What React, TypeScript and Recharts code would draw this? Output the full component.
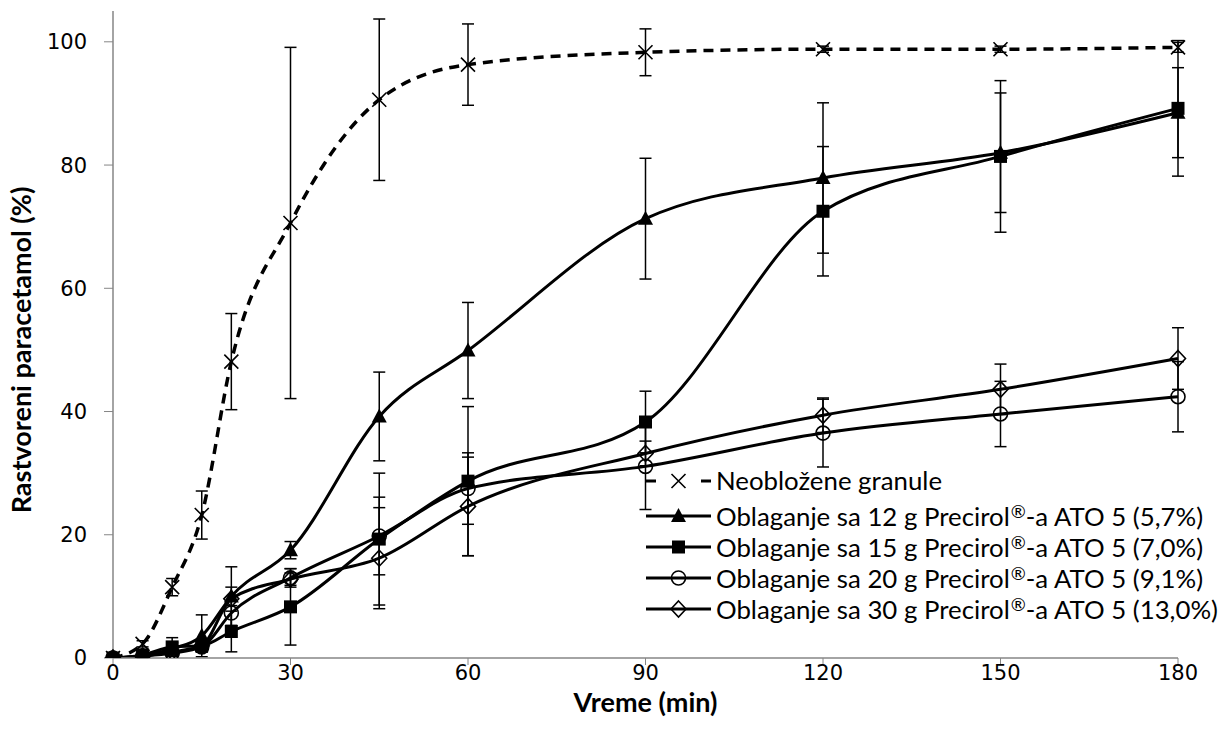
import React from 'react';
import { LineChart, Line, XAxis, YAxis, ErrorBar, Legend, Label } from 'recharts';

const times = [0, 5, 10, 15, 20, 30, 45, 60, 90, 120, 150, 180];

const uncoated = [0, 2.3, 11.5, 23.2, 48.1, 70.6, 90.6, 96.3, 98.3, 98.8, 98.8, 99.1];
const uncoatedErr = [0, 0.5, 1.4, 3.9, 7.8, 28.5, 13.1, 6.6, 3.8, 0.5, 0.5, 0.8];

const coat12 = [0, 0.4, 1.5, 3.6, 10.0, 17.5, 39.2, 49.9, 71.3, 77.9, 82.0, 88.5];
const coat12Err = [0, 0.3, 1.0, 3.4, 1.5, 1.4, 7.2, 7.8, 9.8, 12.2, 9.7, 7.3];

const coat15 = [0, 0.5, 1.8, 2.0, 4.3, 8.3, 19.3, 28.7, 38.3, 72.5, 81.4, 89.2];
const coat15Err = [0, 0.3, 1.5, 1.0, 3.3, 6.2, 10.7, 12.1, 5.0, 10.5, 12.3, 11.0];

const coat20 = [0, 0.3, 0.8, 1.8, 7.3, 13.0, 19.8, 27.5, 31.1, 36.5, 39.6, 42.4];
const coat20Err = [0, 0.2, 0.5, 0.8, 2.0, 1.5, 6.3, 5.8, 7.0, 5.5, 5.3, 5.7];

const coat30 = [0, 0.3, 1.0, 2.0, 9.6, 12.8, 16.2, 24.6, 33.2, 39.4, 43.6, 48.6];
const coat30Err = [0, 0.2, 0.5, 1.0, 5.2, 1.0, 8.2, 8.0, 2.0, 2.8, 4.1, 5.0];

const xTicks = [0, 30, 60, 90, 120, 150, 180];
const yTicks = [0, 20, 40, 60, 80, 100];

const legendPrefix = ['Neobložene granule', 'Oblaganje sa 12 g Precirol', 'Oblaganje sa 15 g Precirol', 'Oblaganje sa 20 g Precirol', 'Oblaganje sa 30 g Precirol'];
const legendSuffix = ['', '-a ATO 5 (5,7%)', '-a ATO 5 (7,0%)', '-a ATO 5 (9,1%)', '-a ATO 5 (13,0%)'];
const shapes = ['x', 'triangle', 'square', 'circle', 'diamond'];

const data = times.map((t, i) => ({
  t,
  s0: uncoated[i], e0: uncoatedErr[i],
  s1: coat12[i], e1: coat12Err[i],
  s2: coat15[i], e2: coat15Err[i],
  s3: coat20[i], e3: coat20Err[i],
  s4: coat30[i], e4: coat30Err[i],
}));

const drawShape = (shape: string, cx: number, cy: number, key?: string) => {
  switch (shape) {
    case 'x':
      return (
        <path key={key} d={`M${cx - 7},${cy - 7}L${cx + 7},${cy + 7}M${cx + 7},${cy - 7}L${cx - 7},${cy + 7}`}
          stroke="#000" strokeWidth={1.6} fill="none" />
      );
    case 'triangle':
      return (
        <polygon key={key} points={`${cx},${cy - 8} ${cx + 7.5},${cy + 6} ${cx - 7.5},${cy + 6}`} fill="#000" />
      );
    case 'square':
      return <rect key={key} x={cx - 6.5} y={cy - 6.5} width={13} height={13} fill="#000" />;
    case 'circle':
      return <circle key={key} cx={cx} cy={cy} r={7} fill="none" stroke="#000" strokeWidth={1.6} />;
    case 'diamond':
      return (
        <polygon key={key} points={`${cx},${cy - 8} ${cx + 7.5},${cy} ${cx},${cy + 8} ${cx - 7.5},${cy}`}
          fill="none" stroke="#000" strokeWidth={1.6} />
      );
    default:
      return null;
  }
};

const makeDot = (shape: string) => (props: any) => {
  const { cx, cy, index } = props;
  if (cx == null || cy == null) return <g key={`${shape}-${index}`} />;
  return <g key={`${shape}-${index}`}>{drawShape(shape, cx, cy)}</g>;
};

const LegendContent = () => (
  <div style={{ fontFamily: 'Lato, "Liberation Sans", sans-serif', fontSize: 25.8, color: '#000', lineHeight: 1 }}>
    {legendPrefix.map((name, i) => (
      <div key={name} style={{ display: 'flex', alignItems: 'center', height: i === 0 ? 38 : 31 }}>
        <svg width={70} height={20} style={{ flex: 'none' }}>
          {i === 0 ? (
            <g>
              <line x1={2} y1={10} x2={12} y2={10} stroke="#000" strokeWidth={3} />
              <line x1={57} y1={10} x2={67} y2={10} stroke="#000" strokeWidth={3} />
            </g>
          ) : (
            <line x1={2} y1={10} x2={67} y2={10} stroke="#000" strokeWidth={3} />
          )}
          {drawShape(shapes[i], 34.5, 10)}
        </svg>
        <span style={{ marginLeft: 2, whiteSpace: 'nowrap' }}>
          {name}
          {i > 0 && <span style={{ fontSize: '0.7em', verticalAlign: '0.45em', marginLeft: 1 }}>®</span>}
          {legendSuffix[i]}
        </span>
      </div>
    ))}
  </div>
);

const axisGray = '#868686';
const tickStyle = { fontFamily: '"DejaVu Sans", Verdana, sans-serif', fontSize: 21, fill: '#000' };
const titleStyle = { fontFamily: 'Lato, "Open Sans", sans-serif', fontWeight: 700, fontSize: 27 };

export default function App() {
  return (
    <div style={{ position: 'absolute', left: 0, top: 0, width: 1228, height: 737, background: '#fff' }}>
      <LineChart width={1228} height={737} data={data} margin={{ top: 11, right: 50, bottom: 0, left: 0 }}>
        <XAxis
          dataKey="t"
          type="number"
          domain={[0, 180]}
          ticks={xTicks}
          tickLine={{ stroke: axisGray }}
          axisLine={{ stroke: axisGray, strokeWidth: 1.5 }}
          tickSize={7}
          tickMargin={0}
          tick={tickStyle}
          height={79}
        >
          <Label
            content={(p: any) => {
              const vb = p.viewBox;
              return (
                <text x={vb.x + vb.width / 2} y={vb.y + 54} textAnchor="middle" style={titleStyle}>
                  Vreme (min)
                </text>
              );
            }}
          />
        </XAxis>
        <YAxis
          type="number"
          domain={[0, 105]}
          ticks={yTicks}
          tickLine={{ stroke: axisGray }}
          axisLine={{ stroke: axisGray, strokeWidth: 1.5 }}
          tickSize={9}
          tickMargin={17}
          tick={tickStyle}
          width={113}
          allowDataOverflow
        >
          <Label
            content={() => (
              <text x={0} y={0} textAnchor="middle" transform="translate(31,350) rotate(-90)" style={titleStyle}>
                Rastvoreni paracetamol (%)
              </text>
            )}
          />
        </YAxis>
        <Legend
          layout="horizontal"
          verticalAlign="middle"
          align="center"
          content={() => <LegendContent />}
          wrapperStyle={{ position: 'absolute', left: 644, top: 462, width: 584, height: 170 }}
        />
        <Line dataKey="s0" type="monotone" stroke="#000" strokeWidth={3.5} strokeDasharray="10 7"
          dot={makeDot('x')} activeDot={false} isAnimationActive={false}>
          <ErrorBar dataKey="e0" width={6} stroke="#000" strokeWidth={1.5} direction="y" />
        </Line>
        <Line dataKey="s1" type="monotone" stroke="#000" strokeWidth={3}
          dot={makeDot('triangle')} activeDot={false} isAnimationActive={false}>
          <ErrorBar dataKey="e1" width={6} stroke="#000" strokeWidth={1.5} direction="y" />
        </Line>
        <Line dataKey="s2" type="monotone" stroke="#000" strokeWidth={3}
          dot={makeDot('square')} activeDot={false} isAnimationActive={false}>
          <ErrorBar dataKey="e2" width={6} stroke="#000" strokeWidth={1.5} direction="y" />
        </Line>
        <Line dataKey="s3" type="monotone" stroke="#000" strokeWidth={3}
          dot={makeDot('circle')} activeDot={false} isAnimationActive={false}>
          <ErrorBar dataKey="e3" width={6} stroke="#000" strokeWidth={1.5} direction="y" />
        </Line>
        <Line dataKey="s4" type="monotone" stroke="#000" strokeWidth={3}
          dot={makeDot('diamond')} activeDot={false} isAnimationActive={false}>
          <ErrorBar dataKey="e4" width={6} stroke="#000" strokeWidth={1.5} direction="y" />
        </Line>
      </LineChart>
    </div>
  );
}
